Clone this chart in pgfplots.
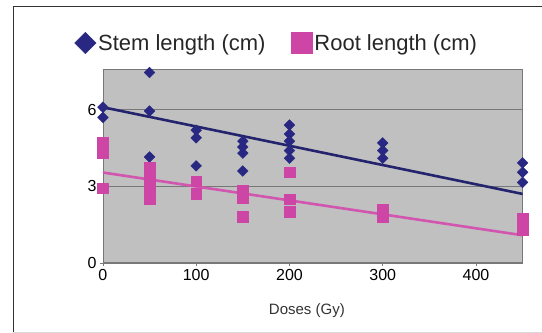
\documentclass[border=0pt]{standalone}
\usepackage{fontspec}
\setmainfont{Liberation Sans}
\usepackage{pgfplots}
\pgfplotsset{compat=1.18}
\definecolor{stem}{RGB}{40,40,130}
\definecolor{stemline}{RGB}{35,35,110}
\definecolor{root}{RGB}{205,70,165}
\definecolor{rootline}{RGB}{210,85,175}
\definecolor{plotbg}{RGB}{192,192,192}
\definecolor{gridc}{RGB}{120,120,120}
\begin{document}
\begin{tikzpicture}[x=1pt,y=1pt]
\path (0,0) rectangle (542,333);
\draw[gray!40!black, line width=0.8pt] (13,1) -- (13,327) -- (542,327);
\draw[gray!30, line width=0.5pt] (13,1) -- (542,1);
\begin{axis}[
  at={(103pt,70pt)}, anchor=south west,
  scale only axis, width=420pt, height=194pt,
  xmin=0, xmax=450, ymin=0, ymax=7.6,
  xtick={0,100,200,300,400}, ytick={0,3,6},
  axis background/.style={fill=plotbg},
  axis line style={draw=gridc, line width=0.5pt},
  tick style={draw=gridc, line width=0.5pt},
  tick align=outside, major tick length=3pt,
  xtick pos=bottom, ytick pos=left,
  ymajorgrids, grid style={draw=gridc, line width=0.7pt},
  /pgf/number format/assume math mode=true,
  tick label style={font=\fontsize{16}{16}\selectfont, text=black},
  xlabel={Doses (Gy)},
  xlabel style={at={(axis description cs:0.486,-0.245)}, anchor=center, font=\fontsize{15}{15}\selectfont, text=black!80},
  legend style={at={(axis description cs:-0.075,1.134)}, anchor=west, draw=none, fill=none,
    legend columns=2, font=\fontsize{22}{26}\selectfont, text=black!85,
    /tikz/every even column/.append style={column sep=24pt},
    legend cell align=left},
  legend image code/.code={\draw[#1] plot coordinates {(0.3cm,0cm)};},
]
\addlegendimage{only marks, mark=square*, mark options={rotate=45, fill=stem, draw=stem}, mark size=7.6}
\addlegendentry{Stem length (cm)}
\addlegendimage{only marks, mark=square*, mark options={fill=root, draw=root}, mark size=10.5}
\addlegendentry{Root length (cm)}

% trend lines
\addplot[forget plot, stemline, line width=2.6pt] coordinates {(0,6.1) (450,2.7)};
\addplot[forget plot, rootline, line width=2.6pt] coordinates {(0,3.54) (450,1.08)};

% stem length
\addplot[forget plot, only marks, mark=square*, mark size=3.8, mark options={rotate=45, fill=stem, draw=stem}] coordinates {
(0,6.1) (0,5.7)
(50,7.46) (50,5.95) (50,4.15)
(100,5.2) (100,4.9) (100,3.8)
(150,4.77) (150,4.54) (150,4.3) (150,3.6)
(200,5.4) (200,5.05) (200,4.77) (200,4.4) (200,4.1)
(300,4.7) (300,4.4) (300,4.1)
(450,3.92) (450,3.55) (450,3.15)
};
% root length
\addplot[forget plot, only marks, mark=square*, mark size=5.3, mark options={fill=root, draw=root}] coordinates {
(0,4.7) (0,4.3) (0,2.93)
(50,3.75) (50,3.35) (50,2.95) (50,2.5)
(100,3.2) (100,2.7)
(150,2.85) (150,2.55) (150,1.8)
(200,3.55) (200,2.5) (200,2.0)
(300,2.1) (300,1.8)
(450,1.75) (450,1.3)
};
\end{axis}
\end{tikzpicture}
\end{document}
